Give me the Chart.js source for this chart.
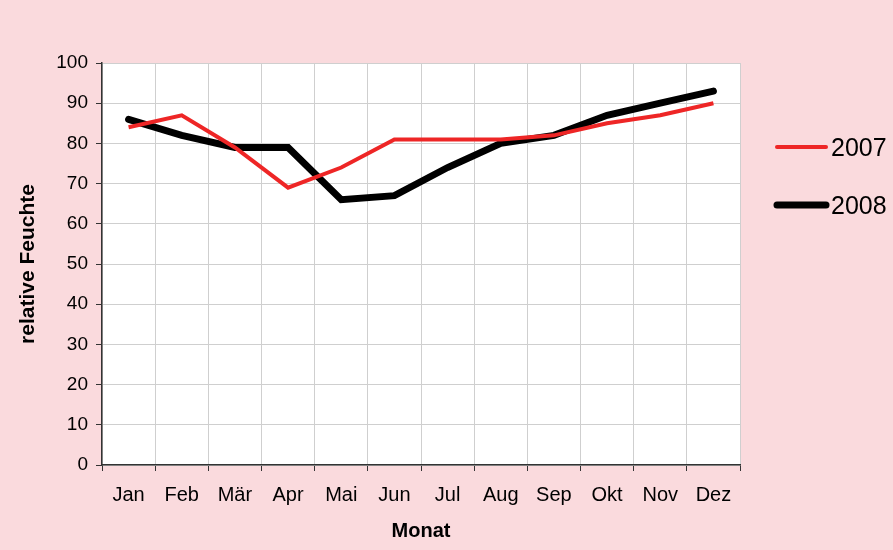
<!DOCTYPE html>
<html>
<head>
<meta charset="utf-8">
<script src="https://cdn.jsdelivr.net/npm/chart.js@4/dist/chart.umd.min.js"></script>
<style>
  html, body { margin: 0; padding: 0; background: #fadadd; }
  canvas { display: block; }
</style>
</head>
<body>
<canvas id="c" width="893" height="550"></canvas>
<script>
const months = ['Jan','Feb','Mär','Apr','Mai','Jun','Jul','Aug','Sep','Okt','Nov','Dez'];
const values2007 = [84, 87, 79, 69, 74, 81, 81, 81, 82, 85, 87, 90];
const values2008 = [86, 82, 79, 79, 66, 67, 74, 80, 82, 87, 90, 93];
const seriesLabels = ['2007', '2008'];
const yTitle = 'relative Feuchte';
const xTitle = 'Monat';

const FONT = '"Liberation Sans", Arial, sans-serif';
const PINK = '#fadadd';
const GRID = '#cfcfcf';
const AXIS = '#333333';

const bgPlugin = {
  id: 'bg',
  beforeDraw(chart) {
    const {ctx, chartArea: a} = chart;
    ctx.save();
    ctx.fillStyle = PINK;
    ctx.fillRect(0, 0, chart.width, chart.height);
    ctx.fillStyle = '#ffffff';
    ctx.fillRect(a.left, a.top, a.right - a.left, a.bottom - a.top);
    ctx.restore();
  }
};

const legendPlugin = {
  id: 'customLegend',
  afterDraw(chart) {
    const ctx = chart.ctx;
    const rows = [147, 205];
    ctx.save();
    chart.data.datasets.forEach((ds, i) => {
      const y = rows[i];
      ctx.beginPath();
      ctx.strokeStyle = ds.borderColor;
      ctx.lineWidth = ds.borderWidth;
      ctx.lineCap = 'round';
      ctx.moveTo(777, y);
      ctx.lineTo(826, y);
      ctx.stroke();
      ctx.fillStyle = '#000000';
      ctx.font = '25px ' + FONT;
      ctx.textBaseline = 'middle';
      ctx.textAlign = 'left';
      ctx.fillText(ds.label, 831, y + 2);
    });
    ctx.restore();
  }
};

new Chart(document.getElementById('c'), {
  type: 'line',
  data: {
    labels: months,
    datasets: [
      {
        label: seriesLabels[0],
        data: values2007,
        borderColor: '#ee2626',
        borderWidth: 4,
        pointRadius: 0,
        pointHoverRadius: 0,
        tension: 0,
        borderJoinStyle: 'miter',
        borderCapStyle: 'butt',
        fill: false
      },
      {
        label: seriesLabels[1],
        data: values2008,
        borderColor: '#000000',
        borderWidth: 7,
        pointRadius: 0,
        pointHoverRadius: 0,
        tension: 0,
        borderJoinStyle: 'miter',
        borderCapStyle: 'round',
        fill: false
      }
    ]
  },
  options: {
    responsive: false,
    animation: false,
    devicePixelRatio: 1,
    layout: { padding: { top: 63, right: 153, bottom: 0, left: 0 } },
    plugins: {
      legend: { display: false },
      tooltip: { enabled: false }
    },
    scales: {
      x: {
        offset: true,
        grid: {
          offset: true,
          color: GRID,
          lineWidth: 1,
          drawTicks: true,
          tickLength: 6,
          tickColor: AXIS
        },
        border: { display: true, color: AXIS, width: 1.5 },
        ticks: {
          color: '#000000',
          font: { family: FONT, size: 20 },
          padding: 12,
          maxRotation: 0,
          autoSkip: false
        },
        title: {
          display: true,
          text: xTitle,
          color: '#000000',
          font: { family: FONT, size: 20, weight: 'bold' },
          padding: { top: 0, bottom: 7 }
        },
        afterFit(scale) { scale.height = 85; }
      },
      y: {
        min: 0,
        max: 100,
        grid: {
          color: GRID,
          lineWidth: 1,
          drawTicks: true,
          tickLength: 6,
          tickColor: AXIS
        },
        border: { display: true, color: AXIS, width: 1.5 },
        ticks: {
          stepSize: 10,
          color: '#000000',
          font: { family: FONT, size: 19 },
          padding: 8
        },
        title: {
          display: true,
          text: yTitle,
          color: '#000000',
          font: { family: FONT, size: 21, weight: 'bold' },
          padding: { top: 16, bottom: 0 }
        },
        afterFit(scale) { scale.width = 102; }
      }
    }
  },
  plugins: [bgPlugin, legendPlugin]
});
</script>
</body>
</html>
